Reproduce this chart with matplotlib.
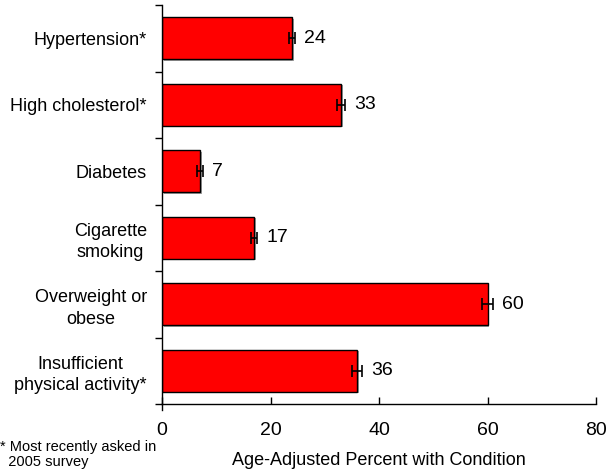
import matplotlib
matplotlib.use("Agg")
import matplotlib.pyplot as plt
import matplotlib.patheffects as pe
import matplotlib.transforms as mtransforms
import numpy as np

categories = ["Hypertension*", "High cholesterol*", "Diabetes", "Cigarette\nsmoking",
              "Overweight or\nobese", "Insufficient\nphysical activity*"]
percent = [24, 33, 7, 17, 60, 36]
ci_half = [0.6, 0.7, 0.5, 0.6, 1.1, 0.9]
x_ticks = [0, 20, 40, 60, 80]

plt.rcParams["font.family"] = ["Liberation Sans", "DejaVu Sans"]

fig = plt.figure(figsize=(6.1, 4.7), dpi=100)
ax = fig.add_axes([162 / 610, 1 - 404 / 470, (596 - 162) / 610, (404 - 5) / 470])

y = np.arange(len(categories))
bars = ax.barh(y, percent, height=0.63, color="#ff0000", edgecolor="black",
               linewidth=1.0, zorder=2)
for b in bars:
    b.set_path_effects([pe.SimplePatchShadow(offset=(1.2, -1.2), shadow_rgbFace="#888888",
                                             alpha=0.8), pe.Normal()])
ax.errorbar(percent, y, xerr=ci_half, fmt="none", ecolor="black", elinewidth=1.2,
            capsize=4, capthick=1.2, zorder=3)

for v, e, yy in zip(percent, ci_half, y):
    ax.annotate(f"{v}", xy=(v + e, yy), xytext=(6.5, 0), textcoords="offset points",
                ha="left", va="center", fontsize=14)

ax.set_xlim(0, 80)
ax.set_ylim(len(categories) - 0.5, -0.5)
ax.set_xticks(x_ticks)
ax.set_xticklabels([str(t) for t in x_ticks], fontsize=14)
ax.tick_params(axis="x", direction="in", length=5, width=1, pad=13)

ax.set_yticks(y)
ax.set_yticklabels(categories, fontsize=13, ha="right", multialignment="center",
                   linespacing=1.35)
ax.tick_params(axis="y", which="major", length=0, pad=10.8)
ax.set_yticks(np.arange(-0.5, len(categories)), minor=True)
ax.tick_params(axis="y", which="minor", direction="out", length=5, width=1)

for s in ["top", "right"]:
    ax.spines[s].set_visible(False)
for s in ["left", "bottom"]:
    ax.spines[s].set_linewidth(1.0)

# short extension of the vertical axis below the origin
trans = mtransforms.blended_transform_factory(ax.transData, ax.transAxes)
ax.plot([0, 0], [0, -0.015], transform=trans, color="black", lw=1.0, clip_on=False)

ax.set_xlabel("Age-Adjusted Percent with Condition", fontsize=13, labelpad=9)

fig.text(0, 1 / 470, "* Most recently asked in\n  2005 survey", fontsize=10.5,
         ha="left", va="bottom", linespacing=1.05)

fig.savefig("out.png", dpi=100)
